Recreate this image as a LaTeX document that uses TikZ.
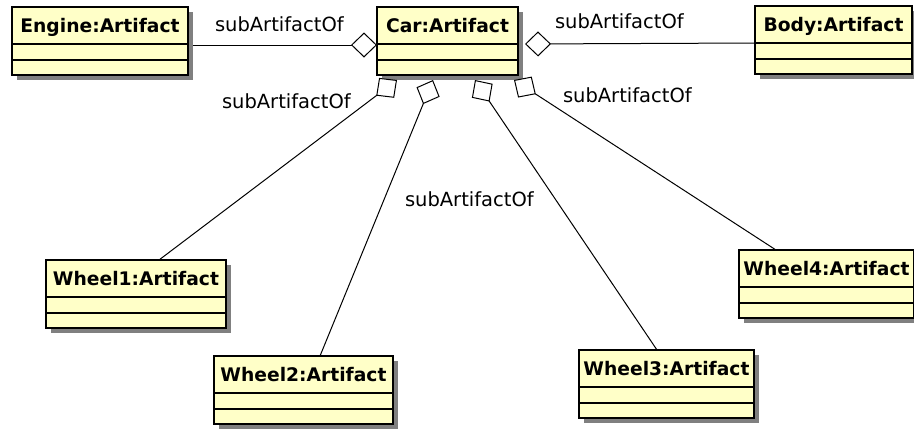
\documentclass[tikz,border=0pt]{standalone}
\usepackage{fontspec}
\usetikzlibrary{arrows.meta}
\newfontfamily\lblfont{DejaVu Sans}
\definecolor{objfill}{RGB}{255,255,200}
\definecolor{objshadow}{RGB}{128,128,128}
\tikzset{
  objbox/.style={draw=black, line width=1.6pt, fill=objfill, rectangle,
    inner sep=0pt, outer sep=0pt, anchor=north west},
  objrule/.style={draw=black, line width=1.4pt},
  objtitle/.style={inner sep=0pt, outer sep=0pt, anchor=base,
    font=\lblfont\bfseries\fontsize{18.7}{20}\selectfont},
  rolelabel/.style={inner sep=0pt, outer sep=0pt, anchor=base west,
    font=\lblfont\fontsize{19.5}{22}\selectfont},
  aggr/.style={draw=black, line width=1pt,
    -{Diamond[fill=white, length=26pt, width=25pt]}},
}
% object box: name, left, top, width, title
\newcommand{\umlobject}[5]{%
  \fill[objshadow] (#2+5,#3+5) rectangle ++(#4,68);
  \node[objbox, minimum width=#4pt, minimum height=68pt] (#1) at (#2,#3) {};
  \draw[objrule] ([yshift=-37pt]#1.north west) -- ([yshift=-37pt]#1.north east);
  \draw[objrule] ([yshift=-53pt]#1.north west) -- ([yshift=-53pt]#1.north east);
  \node[objtitle] (#1-title) at ([yshift=-25pt]#1.north) {#5};
}
\begin{document}
\begin{tikzpicture}[x=1pt, y=-1pt]
\useasboundingbox (0,0) rectangle (914,429);

\umlobject{engine}{12}{7}{176}{Engine:Artifact}
\umlobject{car}{377}{7}{141}{Car:Artifact}
\umlobject{body}{755}{6}{157}{Body:Artifact}
\umlobject{wheel1}{46}{260}{180}{Wheel1:Artifact}
\umlobject{wheel2}{214}{356}{179}{Wheel2:Artifact}
\umlobject{wheel3}{579}{350}{175}{Wheel3:Artifact}
\umlobject{wheel4}{739}{250}{175}{Wheel4:Artifact}

% aggregation links into the car
\draw[aggr] ([xshift=5pt, yshift=-38pt]engine.north east) -- ([yshift=-38pt]car.north west);
\draw[aggr] ([yshift=-37pt]body.north west) -- ([xshift=7pt, yshift=-37pt]car.north east);
\draw[aggr] ([xshift=113pt]wheel1.north west) -- ([xshift=20pt, yshift=-5pt]car.south west);
\draw[aggr] ([xshift=106pt]wheel2.north west) -- ([xshift=56pt, yshift=-5pt]car.south west);
\draw[aggr] ([xshift=78pt]wheel3.north west) -- ([xshift=98pt, yshift=-5pt]car.south west);
\draw[aggr] ([xshift=37pt]wheel4.north west) -- ([xshift=137pt, yshift=-5pt]car.south west);

% role labels
\node[rolelabel] (lab-engine) at (215,31.5) {subArtifactOf};
\node[rolelabel] (lab-body) at (555,28.5) {subArtifactOf};
\node[rolelabel] (lab-wheel1) at (222,108) {subArtifactOf};
\node[rolelabel] (lab-wheel4) at (563,102) {subArtifactOf};
\node[rolelabel] (lab-wheel23) at (405,206) {subArtifactOf};
\end{tikzpicture}
\end{document}
